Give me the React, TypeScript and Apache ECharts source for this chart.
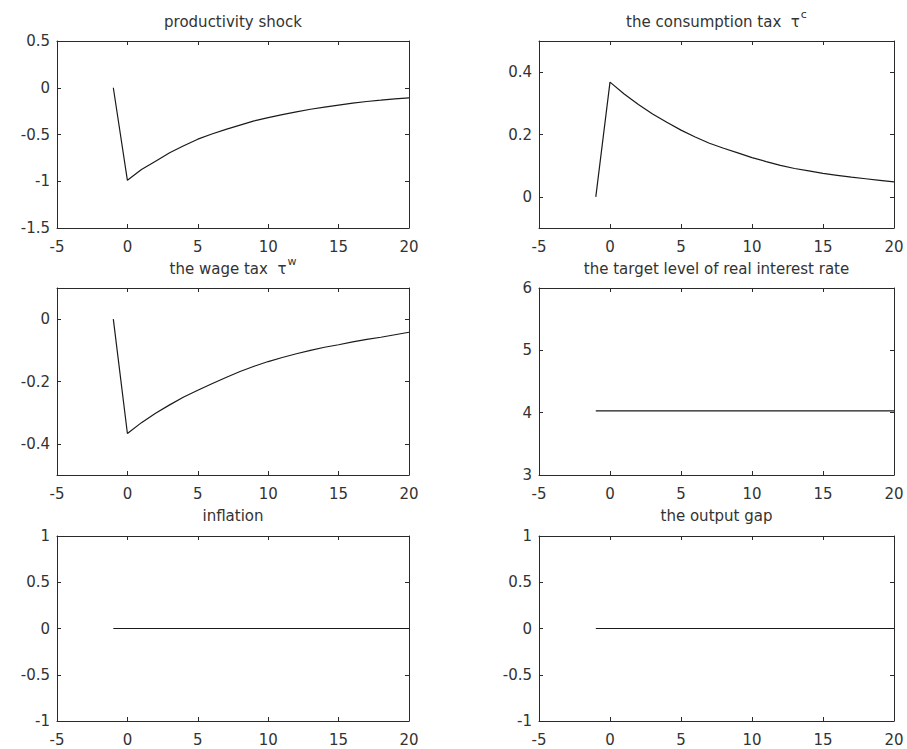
import React, { useEffect, useRef } from "react";
import * as echarts from "echarts";

const periods = [-1, 0, 1, 2, 3, 4, 5, 6, 7, 8, 9, 10, 11, 12, 13, 14, 15, 16, 17, 18, 19, 20];
const productivity = [0, -0.99, -0.875, -0.785, -0.695, -0.62, -0.55, -0.495, -0.445, -0.4, -0.355, -0.32, -0.287, -0.258, -0.23, -0.208, -0.186, -0.165, -0.147, -0.133, -0.118, -0.108];
const consumptionTax = [0, 0.368, 0.33, 0.296, 0.266, 0.239, 0.214, 0.192, 0.172, 0.156, 0.141, 0.126, 0.113, 0.101, 0.091, 0.083, 0.075, 0.069, 0.063, 0.058, 0.053, 0.048];
const wageTax = [0, -0.367, -0.332, -0.302, -0.275, -0.25, -0.228, -0.207, -0.187, -0.168, -0.151, -0.136, -0.123, -0.111, -0.1, -0.09, -0.082, -0.073, -0.065, -0.058, -0.05, -0.042];
const realRate = [4.03, 4.03, 4.03, 4.03, 4.03, 4.03, 4.03, 4.03, 4.03, 4.03, 4.03, 4.03, 4.03, 4.03, 4.03, 4.03, 4.03, 4.03, 4.03, 4.03, 4.03, 4.03];
const inflation = [0, 0, 0, 0, 0, 0, 0, 0, 0, 0, 0, 0, 0, 0, 0, 0, 0, 0, 0, 0, 0, 0];
const outputGap = [0, 0, 0, 0, 0, 0, 0, 0, 0, 0, 0, 0, 0, 0, 0, 0, 0, 0, 0, 0, 0, 0];

const xTicks = [-5, 0, 5, 10, 15, 20];
const titles = [
  { main: "productivity shock", sup: "" },
  { main: "the consumption tax  τ", sup: "c" },
  { main: "the wage tax  τ", sup: "w" },
  { main: "the target level of real interest rate", sup: "" },
  { main: "inflation", sup: "" },
  { main: "the output gap", sup: "" },
];
const yRanges = [
  { min: -1.5, max: 0.5, ticks: [-1.5, -1, -0.5, 0, 0.5] },
  { min: -0.1, max: 0.5, ticks: [0, 0.2, 0.4] },
  { min: -0.5, max: 0.1, ticks: [-0.4, -0.2, 0] },
  { min: 3, max: 6, ticks: [3, 4, 5, 6] },
  { min: -1, max: 1, ticks: [-1, -0.5, 0, 0.5, 1] },
  { min: -1, max: 1, ticks: [-1, -0.5, 0, 0.5, 1] },
];
const seriesData = [productivity, consumptionTax, wageTax, realRate, inflation, outputGap];

const FONT = "DejaVu Sans";
const TXT = "#333";
const LINE = "#2a2a2a";

export default function App() {
  const ref = useRef<HTMLDivElement>(null);
  useEffect(() => {
    if (!ref.current) return;
    const chart = echarts.init(ref.current, undefined, { renderer: "svg" });
    const colLeft = [57, 539];
    const colWidth = [352, 355];
    const rowTop = [41, 288, 536];
    const rowHeight = [187, 187, 185];
    const titleY = [19, 266, 513];

    const grids: any[] = [];
    const xAxes: any[] = [];
    const yAxes: any[] = [];
    const series: any[] = [];
    const gfx: any[] = [];

    for (let i = 0; i < 6; i++) {
      const r = Math.floor(i / 2);
      const c = i % 2;
      grids.push({
        left: colLeft[c],
        top: rowTop[r],
        width: colWidth[c],
        height: rowHeight[r],
        containLabel: false,
      });
      const axisLine = { show: true, onZero: false, lineStyle: { color: LINE, width: 1 } };
      const tick = { show: true, inside: true, length: 4, lineStyle: { color: LINE, width: 1 } };
      xAxes.push({
        type: "value",
        gridIndex: i,
        position: "bottom",
        min: -5,
        max: 20,
        interval: 5,
        axisLine,
        axisTick: { ...tick, customValues: xTicks },
        axisLabel: {
          show: true,
          customValues: xTicks,
          fontFamily: FONT,
          fontSize: 15,
          color: TXT,
          margin: 11,
        },
        splitLine: { show: false },
      });
      xAxes.push({
        type: "value",
        gridIndex: i,
        position: "top",
        min: -5,
        max: 20,
        interval: 5,
        axisLine,
        axisTick: { ...tick, customValues: xTicks },
        axisLabel: { show: false },
        splitLine: { show: false },
      });
      const yr = yRanges[i];
      yAxes.push({
        type: "value",
        gridIndex: i,
        position: "left",
        min: yr.min,
        max: yr.max,
        axisLine,
        axisTick: { ...tick, customValues: yr.ticks },
        axisLabel: {
          show: true,
          customValues: yr.ticks,
          fontFamily: FONT,
          fontSize: 15,
          color: TXT,
          margin: 7,
        },
        splitLine: { show: false },
      });
      yAxes.push({
        type: "value",
        gridIndex: i,
        position: "right",
        min: yr.min,
        max: yr.max,
        axisLine,
        axisTick: { ...tick, customValues: yr.ticks },
        axisLabel: { show: false },
        splitLine: { show: false },
      });
      series.push({
        type: "line",
        xAxisIndex: 2 * i,
        yAxisIndex: 2 * i,
        showSymbol: false,
        symbol: "none",
        data: periods.map((p, k) => [p, seriesData[i][k]]),
        lineStyle: { color: "#1a1a1a", width: 1.2 },
      });
      const t = titles[i];
      gfx.push({
        type: "text",
        x: colLeft[c] + colWidth[c] / 2,
        y: titleY[r],
        silent: true,
        style: {
          text: t.sup ? `{m|${t.main}}{s|${t.sup}}` : `{m|${t.main}}`,
          align: "center",
          verticalAlign: "middle",
          rich: {
            m: { fontFamily: FONT, fontSize: 15, fill: TXT, lineHeight: 20, verticalAlign: "bottom" },
            s: { fontFamily: FONT, fontSize: 11, fill: TXT, lineHeight: 20, verticalAlign: "top", padding: [0, 0, 10, 1] },
          },
        },
      });
    }

    chart.setOption({
      animation: false,
      backgroundColor: "#ffffff",
      grid: grids,
      xAxis: xAxes,
      yAxis: yAxes,
      series,
      graphic: gfx,
    });
    return () => chart.dispose();
  }, []);
  return (
    <div
      ref={ref}
      style={{ position: "fixed", left: 0, top: 0, width: 907, height: 749, background: "#fff" }}
    />
  );
}
